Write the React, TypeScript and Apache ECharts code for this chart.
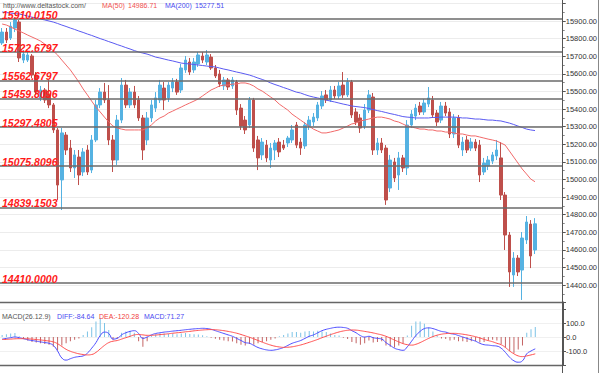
import React, { useEffect, useRef } from 'react';
import * as echarts from 'echarts';

// [open, close, low, high]
const candles: number[][] = [
  [15775, 15837, 15764, 15860], [15837, 15792, 15775, 15860], [15803, 15871, 15792, 15894], [15860, 15906, 15837, 15917],
  [15894, 15690, 15667, 15906], [15678, 15712, 15661, 15735], [15678, 15707, 15667, 15730], [15701, 15593, 15576, 15712],
  [15593, 15496, 15480, 15610], [15463, 15508, 15445, 15531], [15508, 15451, 15434, 15519], [15480, 15423, 15405, 15565],
  [15423, 15281, 15264, 15434], [15281, 14968, 14883, 15292], [14997, 15264, 14826, 15292], [15252, 15167, 15139, 15269],
  [15178, 15065, 15042, 15224], [15065, 15139, 15008, 15167], [15127, 15025, 14968, 15167], [15042, 15156, 15019, 15178],
  [15167, 15042, 15025, 15195], [15053, 15224, 15036, 15252], [15224, 15423, 15212, 15451], [15423, 15496, 15405, 15519],
  [15496, 15451, 15434, 15548], [15451, 15224, 15195, 15536], [15224, 15110, 15042, 15252], [15110, 15337, 15082, 15366],
  [15337, 15536, 15320, 15576], [15536, 15423, 15405, 15565], [15423, 15496, 15405, 15519], [15496, 15423, 15405, 15531],
  [15451, 15349, 15332, 15474], [15349, 15167, 15110, 15366], [15224, 15349, 15195, 15383], [15349, 15423, 15326, 15451],
  [15405, 15463, 15383, 15496], [15451, 15536, 15434, 15565], [15519, 15451, 15394, 15553], [15463, 15536, 15440, 15553],
  [15519, 15553, 15496, 15576], [15553, 15496, 15480, 15571], [15508, 15633, 15491, 15656], [15622, 15678, 15605, 15701],
  [15667, 15610, 15593, 15690], [15622, 15667, 15605, 15690], [15656, 15707, 15639, 15724], [15701, 15678, 15661, 15724],
  [15667, 15707, 15650, 15735], [15695, 15633, 15622, 15712], [15633, 15588, 15576, 15650], [15599, 15542, 15525, 15622],
  [15531, 15565, 15508, 15582], [15565, 15525, 15508, 15576], [15531, 15565, 15514, 15582], [15553, 15394, 15366, 15565],
  [15405, 15303, 15281, 15428], [15337, 15281, 15258, 15360], [15309, 15451, 15292, 15468], [15451, 15178, 15156, 15463],
  [15224, 15122, 15053, 15247], [15139, 15212, 15110, 15235], [15195, 15122, 15099, 15224], [15110, 15178, 15065, 15207],
  [15167, 15207, 15110, 15224], [15212, 15156, 15127, 15235], [15195, 15178, 15167, 15224], [15207, 15235, 15184, 15247],
  [15224, 15281, 15207, 15309], [15309, 15195, 15178, 15326], [15212, 15178, 15139, 15235], [15190, 15309, 15173, 15326],
  [15303, 15337, 15281, 15360], [15326, 15354, 15303, 15377], [15349, 15423, 15332, 15440], [15417, 15474, 15400, 15502],
  [15480, 15451, 15434, 15508], [15451, 15508, 15440, 15531], [15508, 15474, 15457, 15531], [15474, 15531, 15457, 15553],
  [15536, 15480, 15463, 15610], [15480, 15553, 15468, 15576], [15553, 15366, 15349, 15565], [15383, 15326, 15309, 15405],
  [15349, 15292, 15264, 15371], [15303, 15394, 15286, 15428], [15394, 15480, 15377, 15508], [15468, 15167, 15139, 15491],
  [15167, 15207, 15139, 15235], [15207, 15167, 15150, 15235], [15178, 14883, 14855, 15195], [14951, 15110, 14928, 15139],
  [15099, 15008, 14985, 15122], [15025, 15122, 14940, 15156], [15122, 15065, 15042, 15139], [15065, 15309, 15025, 15337],
  [15309, 15371, 15292, 15394], [15360, 15405, 15337, 15428], [15417, 15383, 15366, 15440], [15383, 15434, 15366, 15457],
  [15428, 15463, 15411, 15525], [15451, 15366, 15349, 15474], [15377, 15326, 15303, 15394], [15337, 15417, 15320, 15440],
  [15417, 15377, 15360, 15440], [15383, 15258, 15235, 15405], [15258, 15349, 15235, 15371], [15349, 15195, 15178, 15366],
  [15167, 15212, 15133, 15241], [15224, 15167, 15150, 15247], [15178, 15212, 15161, 15235], [15212, 15178, 15161, 15229],
  [15195, 15025, 14985, 15224], [15042, 15093, 15025, 15122], [15076, 15110, 15053, 15133], [15104, 15139, 15087, 15156],
  [15133, 15167, 15110, 15224], [15122, 14911, 14883, 15212], [14911, 14684, 14599, 14928], [14684, 14474, 14389, 14701],
  [14457, 14553, 14389, 14587], [14553, 14474, 14451, 14570], [14485, 14667, 14315, 14701], [14656, 14758, 14633, 14792],
  [14746, 14565, 14496, 14769], [14599, 14747.6, 14576, 14780],
];

const ma50: number[] = [
  15883, 15877, 15866, 15854, 15843, 15832, 15820, 15809, 15798, 15786, 15769, 15752, 15730, 15707, 15678, 15650,
  15622, 15588, 15553, 15514, 15480, 15445, 15411, 15383, 15354, 15326, 15303, 15292, 15286, 15281, 15281, 15281,
  15281, 15281, 15292, 15309, 15332, 15349, 15360, 15377, 15388, 15400, 15411, 15423, 15434, 15445, 15457, 15474,
  15491, 15508, 15519, 15531, 15536, 15536, 15542, 15542, 15548, 15548, 15542, 15531, 15514, 15502, 15485, 15468,
  15451, 15428, 15411, 15394, 15371, 15354, 15337, 15320, 15303, 15286, 15275, 15264, 15264, 15269, 15275, 15281,
  15292, 15303, 15315, 15320, 15332, 15337, 15343, 15349, 15354, 15354, 15349, 15343, 15332, 15326, 15315, 15303,
  15298, 15292, 15286, 15286, 15281, 15281, 15275, 15275, 15269, 15269, 15264, 15258, 15258, 15252, 15247, 15247,
  15241, 15235, 15229, 15224, 15218, 15207, 15195, 15161, 15127, 15093, 15059, 15031, 15002, 14986.71,
];

const ma200: number[] = [
  15951, 15948, 15945, 15942, 15940, 15934, 15928, 15922, 15917, 15911, 15906, 15900, 15894, 15886, 15877, 15869,
  15860, 15852, 15843, 15835, 15826, 15818, 15809, 15800, 15792, 15783, 15775, 15766, 15758, 15749, 15741, 15732,
  15724, 15718, 15712, 15704, 15695, 15690, 15684, 15678, 15673, 15667, 15661, 15658, 15656, 15653, 15650, 15647,
  15644, 15641, 15639, 15633, 15627, 15622, 15616, 15610, 15605, 15599, 15593, 15585, 15576, 15568, 15559, 15548,
  15539, 15531, 15522, 15514, 15505, 15496, 15491, 15482, 15474, 15468, 15463, 15457, 15451, 15445, 15440, 15434,
  15428, 15423, 15417, 15414, 15411, 15408, 15403, 15397, 15391, 15386, 15380, 15374, 15369, 15363, 15357, 15354,
  15352, 15349, 15349, 15349, 15349, 15352, 15352, 15354, 15354, 15354, 15354, 15352, 15349, 15349, 15346, 15343,
  15343, 15340, 15337, 15337, 15334, 15332, 15326, 15320, 15312, 15303, 15295, 15286, 15281, 15277.51,
];

const macdHist: number[] = [
  15, 20, 25, 28, 5, -15, -25, -35, -40, -45, -50, -55, -70, -95, -60, -45,
  -30, -20, -10, 15, 40, 70, 110, 135, 100, 50, -20, -10, 30, 40, 45, 30,
  -30, -70, -30, 10, 20, 25, 25, 22, 25, 20, 25, 28, 22, 20, 18, 12,
  6, -5, -12, -20, -25, -30, -32, -45, -55, -60, -50, -55, -45, -35, -30, -20,
  -10, 5, 15, 25, 35, 35, 30, 40, 42, 40, 45, 40, 35, 25, 15, 10,
  -5, -15, -35, -45, -55, -45, -25, -40, -35, -30, -60, -70, -75, -60, -45, 10,
  80, 110, 110, 95, 70, 40, 10, -10, -15, -25, -20, -30, -30, -35, -30, -28,
  -40, -35, -25, -20, -25, -50, -75, -100, -115, -90, -60, 30, 56, 71.27,
];

const macdDiff: number[] = [
  -15, -10, -5, 0, -5, -12, -20, -25, -30, -35, -40, -45, -60, -100, -150, -165,
  -155, -145, -140, -135, -115, -80, -40, 10, 35, 25, -15, -10, 15, 30, 40, 45,
  25, -10, 0, 15, 25, 30, 35, 38, 42, 45, 48, 52, 55, 58, 60, 62,
  60, 55, 45, 35, 25, 15, 5, -10, -25, -40, -45, -60, -75, -85, -92, -95,
  -92, -85, -75, -60, -45, -35, -25, -10, 5, 15, 30, 45, 55, 62, 68, 70,
  68, 62, 45, 30, 10, 0, 5, -5, -10, -15, -40, -60, -80, -90, -95, -70,
  -30, 10, 40, 60, 65, 60, 50, 40, 35, 25, 20, 10, 0, -10, -20, -30,
  -45, -55, -58, -62, -65, -80, -110, -145, -170, -180, -170, -120, -100, -84.64,
];

const macdDea: number[] = [
  -18, -17, -15, -13, -12, -12, -13, -15, -18, -21, -25, -29, -35, -48, -68, -88,
  -102, -112, -120, -125, -128, -125, -110, -85, -60, -40, -30, -25, -15, -5, 5, 15,
  18, 15, 12, 12, 14, 17, 20, 23, 27, 30, 33, 37, 40, 44, 47, 50,
  52, 53, 52, 49, 45, 40, 34, 27, 18, 8, -2, -13, -25, -37, -48, -58,
  -66, -71, -74, -73, -70, -64, -57, -48, -38, -28, -17, -5, 6, 17, 27, 36,
  43, 48, 50, 49, 45, 40, 35, 29, 22, 15, 5, -8, -22, -35, -47, -55,
  -58, -52, -40, -25, -10, 3, 13, 20, 24, 26, 26, 24, 20, 15, 9, 2,
  -7, -17, -26, -34, -45, -55, -75, -100, -120, -135, -140, -135, -128, -120.28,
];

const levels: number[] = [15910.015, 15722.6797, 15562.6797, 15459.8096, 15297.4805, 15075.8096, 14839.1503, 14410.0];
const lastPrice = 14747.6;
const emptySlots = 6;
const macdAxisLabels: number[] = [100, 0, -100];

const UP = '#55b2e2';
const DOWN = '#be4f4b';
const FONT = '"Liberation Sans", Arial, sans-serif';

export default function App() {
  const ref = useRef<HTMLDivElement>(null);
  useEffect(() => {
    if (!ref.current) return;
    const chart = echarts.init(ref.current, null, { renderer: 'svg' });
    const total = candles.length + emptySlots;
    const categories = Array.from({ length: total }, (_, i) => String(i + 1));

    const levelLines = levels.map((v) => ({
      yAxis: v,
      label: {
        show: true,
        position: 'insideStartTop',
        formatter: v.toFixed(4),
        color: '#ff1a1a',
        fontStyle: 'italic',
        fontWeight: 'bold',
        fontSize: 10.5,
        fontFamily: FONT,
        distance: [2, -1],
      },
    }));

    const hdr = (text: string, x: number, y: number, fill: string, size = 7) => ({
      type: 'text', x, y, z: 100,
      style: { text, fill, fontSize: size, fontFamily: FONT, verticalAlign: 'middle' },
    });

    const option: any = {
      animation: false,
      backgroundColor: '#ffffff',
      grid: [
        { left: 0, right: 37, top: 3.4, height: 299.2 },
        { left: 0, right: 37, top: 302, height: 63 },
      ],
      xAxis: [
        {
          type: 'category', gridIndex: 0, data: categories, boundaryGap: true,
          axisLine: { show: false }, axisTick: { show: false }, axisLabel: { show: false }, splitLine: { show: false },
        },
        {
          type: 'category', gridIndex: 1, data: categories, boundaryGap: true,
          axisLine: { show: false }, axisTick: { show: false }, axisLabel: { show: false }, splitLine: { show: false },
        },
      ],
      yAxis: [
        {
          type: 'value', gridIndex: 0, position: 'right', min: 14300, max: 16000, interval: 100, scale: true,
          axisLine: { show: true, lineStyle: { color: '#555', width: 1 } },
          axisTick: { show: true, length: 3, lineStyle: { color: '#555' } },
          minorTick: { show: true, splitNumber: 2, length: 2, lineStyle: { color: '#888' } },
          axisLabel: {
            fontSize: 7.5, color: '#333', margin: 3, fontFamily: FONT,
            showMinLabel: false, showMaxLabel: false,
            formatter: (v: number) => v.toFixed(2),
          },
          splitLine: { show: true, lineStyle: { color: '#ececec', width: 1 } },
        },
        {
          type: 'value', gridIndex: 1, position: 'right', min: -200, max: 250, interval: 100,
          axisLine: { show: true, lineStyle: { color: '#555', width: 1 } },
          axisTick: { show: true, length: 3, lineStyle: { color: '#555' } },
          axisLabel: {
            fontSize: 7.5, color: '#333', margin: 3, fontFamily: FONT,
            formatter: (v: number) => (macdAxisLabels.indexOf(v) >= 0 ? v.toFixed(1) : ''),
          },
          splitLine: { show: true, lineStyle: { color: '#f0f0f0', width: 1 } },
        },
      ],
      series: [
        {
          name: 'price', type: 'candlestick', xAxisIndex: 0, yAxisIndex: 0,
          data: candles, barWidth: 3,
          itemStyle: { color: UP, color0: DOWN, borderColor: UP, borderColor0: DOWN, borderWidth: 1 },
          markLine: {
            silent: true, symbol: ['none', 'none'], animation: false,
            lineStyle: { color: '#6a6a6a', width: 1.5, type: 'solid' },
            data: [
              ...levelLines,
              {
                yAxis: lastPrice,
                lineStyle: { opacity: 0 },
                label: {
                  show: true, position: 'end', formatter: lastPrice.toFixed(2),
                  backgroundColor: '#66c6ef', color: '#1a1a1a', fontSize: 7.5, fontFamily: FONT,
                  padding: [1, 2], distance: 1,
                },
              },
            ],
          },
        },
        {
          name: 'MA(50)', type: 'line', xAxisIndex: 0, yAxisIndex: 0, data: ma50,
          showSymbol: false, smooth: false, lineStyle: { color: '#f26a6a', width: 1 }, z: 3,
        },
        {
          name: 'MA(200)', type: 'line', xAxisIndex: 0, yAxisIndex: 0, data: ma200,
          showSymbol: false, smooth: false, lineStyle: { color: '#5a5af2', width: 1 }, z: 3,
        },
        {
          name: 'MACD', type: 'bar', xAxisIndex: 1, yAxisIndex: 1, data: macdHist, barWidth: 1,
          itemStyle: { color: (p: any) => (p.value >= 0 ? '#7cc3e6' : '#c46464') },
        },
        {
          name: 'DIFF', type: 'line', xAxisIndex: 1, yAxisIndex: 1, data: macdDiff,
          showSymbol: false, smooth: true, lineStyle: { color: '#4d4dff', width: 1 },
        },
        {
          name: 'DEA', type: 'line', xAxisIndex: 1, yAxisIndex: 1, data: macdDea,
          showSymbol: false, smooth: true, lineStyle: { color: '#ff4d4d', width: 1 },
        },
      ],
      graphic: [
        { type: 'line', z: 50, shape: { x1: 0, y1: 302.5, x2: 563, y2: 302.5 }, style: { stroke: '#666', lineWidth: 1.5 } },
        { type: 'line', z: 50, shape: { x1: 0, y1: 365.5, x2: 563, y2: 365.5 }, style: { stroke: '#666', lineWidth: 1.5 } },
        { type: 'line', z: 50, shape: { x1: 562.5, y1: 0, x2: 562.5, y2: 373 }, style: { stroke: '#555', lineWidth: 1 } },
        { type: 'line', z: 50, shape: { x1: 598.5, y1: 0, x2: 598.5, y2: 373 }, style: { stroke: '#888', lineWidth: 1 } },
        hdr('http://www.deltastock.com/', 3, 5, '#555'),
        hdr('MA(50)', 102, 5, '#f05050'),
        hdr('14986.71', 128, 5, '#f05050'),
        hdr('MA(200)', 165, 5, '#4a4af0'),
        hdr('15277.51', 195, 5, '#4a4af0'),
        hdr('MACD(26.12.9)', 2, 316, '#555'),
        hdr('DIFF:-84.64', 57, 316, '#4a4af0'),
        hdr('DEA:-120.28', 99, 316, '#f04040'),
        hdr('MACD:71.27', 144, 316, '#4a4af0'),
      ],
    };
    chart.setOption(option);
    return () => chart.dispose();
  }, []);
  return <div ref={ref} style={{ position: 'fixed', left: 0, top: 0, width: 600, height: 373 }} />;
}
